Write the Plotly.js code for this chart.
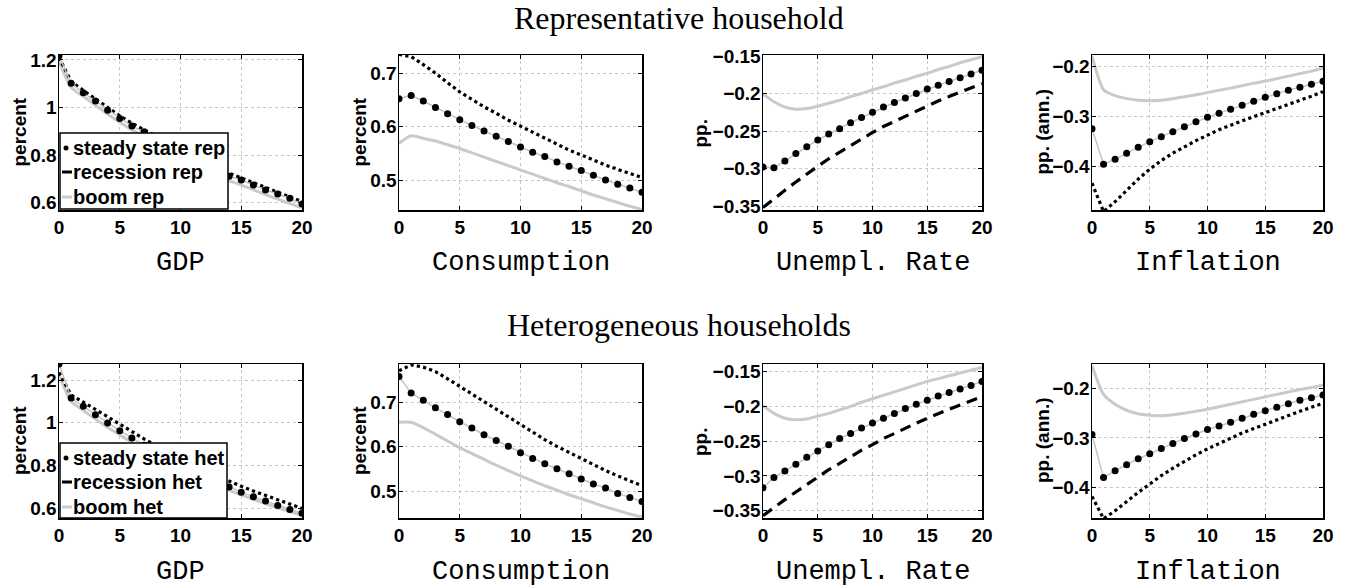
<!DOCTYPE html>
<html>
<head>
<meta charset="utf-8">
<script src="https://cdn.plot.ly/plotly-3.0.1.min.js"></script>
<style>html,body{margin:0;padding:0;background:#fff;}#chart{width:1351px;height:588px;}</style>
</head>
<body>
<div id="chart"></div>
<script>
// ---------- data ----------
const periods = [0,1,2,3,4,5,6,7,8,9,10,11,12,13,14,15,16,17,18,19,20];

const groupTitles = ["Representative household", "Heterogeneous households"];
const panelNames = ["GDP", "Consumption", "Unempl. Rate", "Inflation"];
const panelUnits = ["percent", "percent", "pp.", "pp. (ann.)"];
const legendRep = ["steady state rep", "recession rep", "boom rep"];
const legendHet = ["steady state het", "recession het", "boom het"];

// Representative household
const gdpRepSteady    = [1.218,1.102,1.062,1.027,0.989,0.954,0.922,0.898,0.867,0.838,0.810,0.783,0.757,0.733,0.711,0.695,0.674,0.653,0.636,0.618,0.594];
const gdpRepRecession = [1.210,1.110,1.072,1.036,0.999,0.965,0.934,0.906,0.877,0.849,0.822,0.796,0.771,0.747,0.724,0.704,0.684,0.664,0.645,0.626,0.604];
const gdpRepBoom      = [1.195,1.085,1.047,1.010,0.973,0.938,0.906,0.876,0.846,0.818,0.791,0.765,0.740,0.716,0.693,0.674,0.654,0.634,0.615,0.596,0.578];

const consRepSteady    = [0.652,0.658,0.648,0.636,0.624,0.613,0.602,0.592,0.582,0.572,0.562,0.552,0.544,0.534,0.526,0.518,0.509,0.500,0.492,0.485,0.477];
const consRepRecession = [0.735,0.731,0.716,0.700,0.682,0.665,0.651,0.637,0.625,0.612,0.601,0.590,0.578,0.567,0.556,0.547,0.537,0.528,0.520,0.512,0.505];
const consRepBoom      = [0.569,0.583,0.578,0.573,0.566,0.559,0.551,0.543,0.535,0.527,0.519,0.511,0.503,0.495,0.488,0.480,0.472,0.465,0.458,0.451,0.445];

const unRepSteady    = [-0.298,-0.299,-0.290,-0.280,-0.271,-0.262,-0.254,-0.247,-0.239,-0.232,-0.225,-0.218,-0.212,-0.206,-0.200,-0.194,-0.189,-0.184,-0.179,-0.174,-0.169];
const unRepRecession = [-0.352,-0.340,-0.329,-0.318,-0.307,-0.297,-0.287,-0.278,-0.269,-0.260,-0.252,-0.244,-0.237,-0.230,-0.223,-0.216,-0.210,-0.204,-0.198,-0.192,-0.187];
const unRepBoom      = [-0.201,-0.211,-0.218,-0.221,-0.220,-0.217,-0.213,-0.209,-0.204,-0.200,-0.195,-0.191,-0.186,-0.182,-0.177,-0.173,-0.168,-0.164,-0.159,-0.155,-0.151];

const infRepSteady    = [-0.324,-0.395,-0.385,-0.373,-0.361,-0.350,-0.340,-0.330,-0.320,-0.310,-0.301,-0.293,-0.285,-0.277,-0.269,-0.261,-0.254,-0.247,-0.241,-0.235,-0.229];
const infRepRecession = [-0.433,-0.490,-0.470,-0.447,-0.425,-0.405,-0.388,-0.373,-0.360,-0.348,-0.337,-0.326,-0.317,-0.308,-0.300,-0.292,-0.284,-0.276,-0.268,-0.259,-0.250];
const infRepBoom      = [-0.179,-0.246,-0.258,-0.264,-0.267,-0.268,-0.267,-0.264,-0.260,-0.256,-0.252,-0.247,-0.243,-0.238,-0.233,-0.229,-0.224,-0.219,-0.214,-0.209,-0.203];

// Heterogeneous households
const gdpHetSteady    = [1.275,1.116,1.077,1.038,0.999,0.963,0.929,0.895,0.863,0.833,0.804,0.776,0.749,0.724,0.700,0.675,0.654,0.634,0.614,0.595,0.577];
const gdpHetRecession = [1.235,1.130,1.097,1.062,1.027,0.992,0.958,0.925,0.893,0.862,0.832,0.804,0.777,0.751,0.726,0.703,0.681,0.660,0.639,0.619,0.600];
const gdpHetBoom      = [1.225,1.100,1.058,1.018,0.979,0.943,0.909,0.876,0.845,0.815,0.786,0.759,0.733,0.708,0.685,0.663,0.642,0.622,0.603,0.585,0.567];

const consHetSteady    = [0.757,0.720,0.704,0.687,0.672,0.656,0.642,0.627,0.614,0.601,0.587,0.574,0.562,0.551,0.540,0.528,0.517,0.508,0.496,0.487,0.478];
const consHetRecession = [0.770,0.783,0.778,0.768,0.752,0.735,0.717,0.699,0.682,0.665,0.648,0.632,0.616,0.601,0.587,0.573,0.560,0.547,0.535,0.524,0.513];
const consHetBoom      = [0.655,0.655,0.643,0.628,0.613,0.598,0.585,0.572,0.559,0.547,0.535,0.524,0.513,0.503,0.493,0.484,0.475,0.466,0.458,0.450,0.443];

const unHetSteady    = [-0.317,-0.302,-0.293,-0.283,-0.273,-0.264,-0.255,-0.246,-0.239,-0.231,-0.224,-0.217,-0.210,-0.203,-0.197,-0.191,-0.185,-0.180,-0.175,-0.170,-0.164];
const unHetRecession = [-0.357,-0.345,-0.334,-0.323,-0.312,-0.301,-0.291,-0.282,-0.272,-0.263,-0.255,-0.246,-0.239,-0.231,-0.224,-0.217,-0.210,-0.204,-0.198,-0.192,-0.186];
const unHetBoom      = [-0.199,-0.210,-0.217,-0.219,-0.218,-0.214,-0.210,-0.205,-0.200,-0.194,-0.189,-0.184,-0.179,-0.174,-0.169,-0.164,-0.160,-0.156,-0.152,-0.148,-0.144];

const infHetSteady    = [-0.293,-0.380,-0.366,-0.354,-0.342,-0.332,-0.321,-0.311,-0.301,-0.292,-0.283,-0.276,-0.268,-0.260,-0.252,-0.245,-0.238,-0.231,-0.224,-0.219,-0.213];
const infHetRecession = [-0.418,-0.463,-0.447,-0.428,-0.410,-0.393,-0.376,-0.361,-0.347,-0.334,-0.322,-0.311,-0.300,-0.290,-0.281,-0.272,-0.263,-0.254,-0.246,-0.238,-0.230];
const infHetBoom      = [-0.154,-0.212,-0.232,-0.244,-0.251,-0.254,-0.255,-0.253,-0.250,-0.246,-0.242,-0.237,-0.232,-0.227,-0.222,-0.217,-0.212,-0.207,-0.202,-0.198,-0.193];

// y tick step per panel and axis ranges
const yTickStep = [0.2, 0.1, 0.05, 0.1];
const yRanges = [
  [0.569, 1.221], [0.444, 0.734], [-0.3553, -0.1487], [-0.4867, -0.1767],
  [0.555, 1.275], [0.441, 0.785], [-0.3604, -0.139], [-0.4616, -0.1506]
];

// ---------- layout geometry (pixels) ----------
const W = 1351, H = 588;
const colPx = [[59,302],[399,642],[763,982],[1092,1323]];
const rowPx = [[55,210],[364,518]];
const ylabelX = [19, 359, 700, 1042];
const titleY = [18.5, 325];
const xlabelY = [263, 572];
const px = v => v / W;
const py = v => 1 - v / H;

const series = [
  [gdpRepSteady, gdpRepRecession, gdpRepBoom],
  [consRepSteady, consRepRecession, consRepBoom],
  [unRepSteady, unRepRecession, unRepBoom],
  [infRepSteady, infRepRecession, infRepBoom],
  [gdpHetSteady, gdpHetRecession, gdpHetBoom],
  [consHetSteady, consHetRecession, consHetBoom],
  [unHetSteady, unHetRecession, unHetBoom],
  [infHetSteady, infHetRecession, infHetBoom]
];

const sansBold = 'Liberation Sans, Arial, sans-serif';
const tickFont = {family: sansBold, size: 19, weight: 700, color: '#000'};
const traces = [];
const layout = {
  width: W, height: H,
  margin: {l: 0, r: 0, t: 0, b: 0},
  paper_bgcolor: '#fff', plot_bgcolor: '#fff',
  showlegend: false,
  annotations: [], shapes: []
};

for (let i = 0; i < 8; i++) {
  const col = i % 4, row = Math.floor(i / 4);
  const sfx = i === 0 ? '' : String(i + 1);
  const xa = 'x' + sfx, ya = 'y' + sfx;
  const [steady, rec, boom] = series[i];
  const recDash = col === 2 ? '11px,7px' : 'dot';
  traces.push({x: periods, y: boom, xaxis: xa, yaxis: ya, mode: 'lines',
    line: {color: '#cacaca', width: 3, shape: 'spline', smoothing: 0.6}, hoverinfo: 'skip'});
  traces.push({x: periods, y: rec, xaxis: xa, yaxis: ya, mode: 'lines',
    line: {color: '#000', width: 3.2, dash: recDash}, hoverinfo: 'skip'});
  traces.push({x: periods, y: steady, xaxis: xa, yaxis: ya, mode: 'lines+markers',
    line: {color: '#c4c4c4', width: 1.5}, marker: {color: '#000', size: 7}, hoverinfo: 'skip'});

  const common = {
    showline: true, linecolor: '#000', linewidth: 1.5, mirror: 'ticks',
    ticks: 'inside', ticklen: 4, tickcolor: '#000', tickwidth: 1,
    showgrid: true, gridcolor: '#c8c8c8', griddash: 'dot', gridwidth: 1,
    zeroline: false, tickfont: tickFont, fixedrange: true,
    tickprefix: '<b>', ticksuffix: '</b>'
  };
  layout['xaxis' + sfx] = Object.assign({}, common, {
    domain: [px(colPx[col][0]), px(colPx[col][1])],
    anchor: ya, range: [0, 20], tick0: 0, dtick: 5
  });
  layout['yaxis' + sfx] = Object.assign({}, common, {
    domain: [py(rowPx[row][1]), py(rowPx[row][0])],
    anchor: xa, range: yRanges[i], tick0: 0, dtick: yTickStep[col],
    ticklabelstandoff: -3
  });

  // x-axis label (typewriter) and y unit label
  layout.annotations.push({
    xref: 'paper', yref: 'paper', x: px((colPx[col][0] + colPx[col][1]) / 2), y: py(xlabelY[row]),
    xanchor: 'center', yanchor: 'middle', showarrow: false, text: panelNames[col],
    font: {family: 'Liberation Mono, Courier New, monospace', size: 27, color: '#000'}
  });
  layout.annotations.push({
    xref: 'paper', yref: 'paper', x: px(ylabelX[col]), y: py((rowPx[row][0] + rowPx[row][1]) / 2),
    xanchor: 'center', yanchor: 'middle', showarrow: false, textangle: -90,
    text: '<b>' + panelUnits[col] + '</b>',
    font: {family: sansBold, size: 19, weight: 700, color: '#000'}
  });
}

// group titles
for (let r = 0; r < 2; r++) {
  layout.annotations.push({
    xref: 'paper', yref: 'paper', x: px(679), y: py(titleY[r]),
    xanchor: 'center', yanchor: 'middle', showarrow: false, text: groupTitles[r],
    font: {family: 'Liberation Serif, Times New Roman, serif', size: 32, color: '#000'}
  });
}

// in-axes legends (one per row)
const legendBoxes = [[60, 133, 228, 209], [60, 443, 227, 518]];
const legendRowsY = [[148, 172, 197], [458, 482, 507]];
const legendTexts = [legendRep, legendHet];
for (let r = 0; r < 2; r++) {
  const b = legendBoxes[r];
  layout.shapes.push({type: 'rect', xref: 'paper', yref: 'paper',
    x0: px(b[0]), x1: px(b[2]), y0: py(b[3]), y1: py(b[1]),
    fillcolor: '#fff', line: {color: '#000', width: 1.5}, layer: 'above'});
  const ly = legendRowsY[r];
  layout.shapes.push({type: 'circle', xref: 'paper', yref: 'paper', layer: 'above',
    x0: px(63.5), x1: px(68.5), y0: py(ly[0] + 2.5), y1: py(ly[0] - 2.5),
    fillcolor: '#000', line: {color: '#000', width: 0}});
  layout.shapes.push({type: 'line', xref: 'paper', yref: 'paper', layer: 'above',
    x0: px(62), x1: px(72), y0: py(ly[1]), y1: py(ly[1]), line: {color: '#000', width: 3}});
  layout.shapes.push({type: 'line', xref: 'paper', yref: 'paper', layer: 'above',
    x0: px(62), x1: px(72), y0: py(ly[2]), y1: py(ly[2]), line: {color: '#cacaca', width: 3}});
  for (let k = 0; k < 3; k++) {
    layout.annotations.push({
      xref: 'paper', yref: 'paper', x: px(71), y: py(ly[k]),
      xanchor: 'left', yanchor: 'middle', showarrow: false,
      text: '<b>' + legendTexts[r][k] + '</b>',
      font: {family: sansBold, size: 20, weight: 700, color: '#000'}
    });
  }
}

Plotly.newPlot('chart', traces, layout, {staticPlot: true, displayModeBar: false});
</script>
</body>
</html>
